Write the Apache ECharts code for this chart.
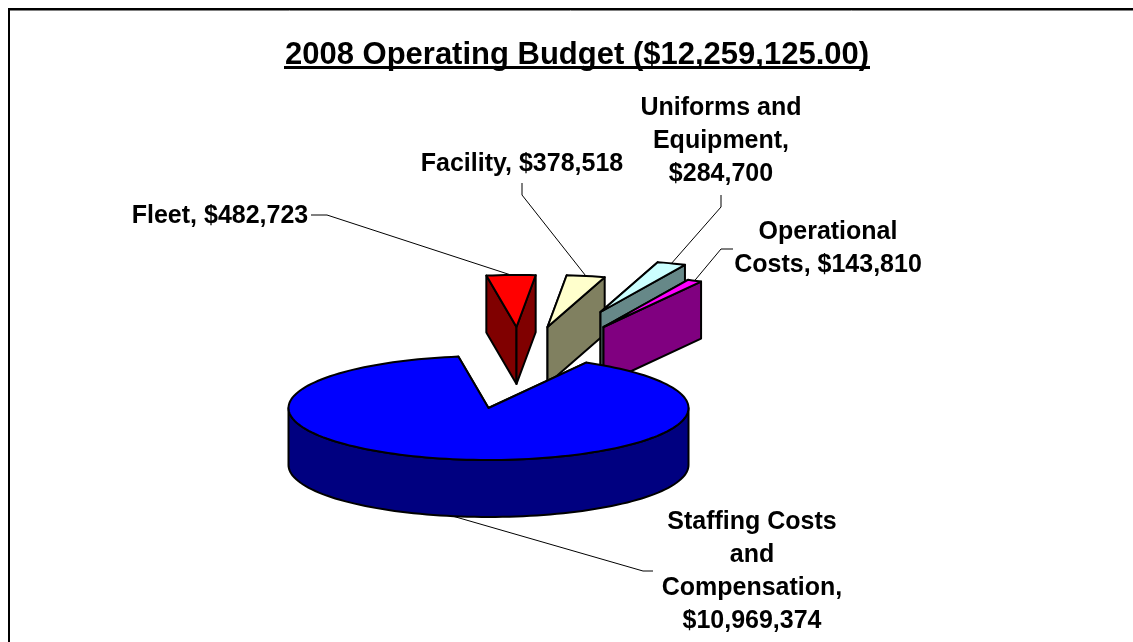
<!DOCTYPE html>
<html>
<head>
<meta charset="utf-8">
<title>2008 Operating Budget</title>
<script src="https://cdn.jsdelivr.net/npm/echarts@6/dist/echarts.min.js"></script>
<style>
  html, body { margin: 0; padding: 0; background: #fff; }
  #chart { width: 1133px; height: 642px; }
</style>
</head>
<body>
<div id="chart"></div>
<script>
const titleText = '2008 Operating Budget ($12,259,125.00)';
const categories = ['Staffing Costs\nand\nCompensation', 'Fleet', 'Facility', 'Uniforms and\nEquipment', 'Operational\nCosts'];
const amounts = [10969374, 482723, 378518, 284700, 143810];
const labelSeparators = [',\n', ', ', ', ', ',\n', ', '];

const topColors = ['#0000ff', '#ff0000', '#ffffcc', '#ccffff', '#ff00ff'];
const sideColors = ['#000080', '#800000', '#808060', '#668888', '#800080'];

// pie shape, picture px
const pie = { cx: 488.5, cy: 408, rx: 200, ry: 52, depth: 57, startAngle: 29.2 };
// how far each slice was dragged out of the pie
const explode = [[0, 0], [28, -81], [59, -81], [112, -96], [115, -81]];
// label centre + first line y, then the points of the leader line on the label side
const labelPos = [[752, 506], [220, 200], [522, 148], [721, 92], [828, 216]];
const leaderFrom = [
  [[653, 571], [643, 571]],
  [[311, 215], [327, 215]],
  [[522, 183], [522, 195]],
  [[721, 195], [721, 207]],
  [[733, 249], [721, 249]]
];
const drawOrder = [4, 0, 1, 2, 3]; // z per slice: small ones behind the big one

const lineHeight = 33;
const labelFont = 'bold 25px "Liberation Sans", Arial, sans-serif';
const total = amounts.reduce((a, b) => a + b, 0);

// clockwise from 12 o'clock
function ptAt(deg, ox, oy) {
  const r = deg * Math.PI / 180;
  return [ox + pie.rx * Math.sin(r), oy - pie.ry * Math.cos(r)];
}
function arc(a0, a1, ox, oy) {
  const pts = [];
  const n = Math.max(2, Math.ceil(Math.abs(a1 - a0) / 2));
  for (let i = 0; i <= n; i++) pts.push(ptAt(a0 + (a1 - a0) * i / n, ox, oy));
  return pts;
}
function down(pts) {
  return pts.map(p => [p[0], p[1] + pie.depth]).reverse();
}
function formatMoney(v) {
  return '$' + v.toLocaleString('en-US');
}

function renderSlice(params, api) {
  const i = params.dataIndex;
  const before = amounts.slice(0, i).reduce((a, b) => a + b, 0);
  const a0 = pie.startAngle + before / total * 360;
  const a1 = a0 + api.value(0) / total * 360;
  const ox = pie.cx + explode[i][0];
  const oy = pie.cy + explode[i][1];
  const apex = [ox, oy];
  const s0 = ptAt(a0, ox, oy);
  const s1 = ptAt(a1, ox, oy);
  const z = drawOrder[i] * 10;
  const face = (pts, c, dz) => ({
    type: 'polygon', z2: z + dz,
    shape: { points: pts },
    style: { fill: c, stroke: '#000', lineWidth: 2, lineJoin: 'round' }
  });
  const children = [
    face([apex, s0].concat(down([apex, s0])), sideColors[i], 0),
    face([apex, s1].concat(down([apex, s1])), sideColors[i], 1)
  ];
  // outer wall only shows on the front half
  const w0 = Math.max(a0, 90), w1 = Math.min(a1, 270);
  if (w1 > w0) {
    const wall = arc(w0, w1, ox, oy);
    children.push(face(wall.concat(down(wall)), sideColors[i], 2));
  }
  children.push(face([apex].concat(arc(a0, a1, ox, oy)), topColors[i], 3));

  // leader line, runs to the middle of the slice's outer edge
  const mid = (a0 + a1) / 2;
  let end = ptAt(mid, ox, oy);
  if (mid % 360 > 90 && mid % 360 < 270) end = [end[0], end[1] + pie.depth];
  children.push({
    type: 'polyline', z2: -1,
    shape: { points: leaderFrom[i].concat([end]) },
    style: { fill: null, stroke: '#000', lineWidth: 1 }
  });
  children.push({
    type: 'text', z2: 100,
    style: {
      text: categories[i] + labelSeparators[i] + formatMoney(api.value(0)),
      x: labelPos[i][0], y: labelPos[i][1],
      font: labelFont, fill: '#000', align: 'center', verticalAlign: 'top',
      lineHeight: lineHeight
    }
  });
  return { type: 'group', children: children };
}

const chart = echarts.init(document.getElementById('chart'));
chart.setOption({
  animation: false,
  backgroundColor: '#fff',
  title: {
    text: titleText,
    left: 572,
    top: 35,
    textAlign: 'center',
    textStyle: { fontFamily: '"Liberation Sans", Arial, sans-serif', fontWeight: 'bold', fontSize: 31, color: '#000' }
  },
  graphic: [
    // chart frame, only top and left survive in the crop
    { type: 'line', shape: { x1: 8, y1: 9, x2: 1133, y2: 9 }, style: { stroke: '#000', lineWidth: 2 } },
    { type: 'line', shape: { x1: 8, y1: 10.5, x2: 1133, y2: 10.5 }, style: { stroke: '#808080', lineWidth: 1 } },
    { type: 'line', shape: { x1: 9, y1: 8, x2: 9, y2: 642 }, style: { stroke: '#000', lineWidth: 2 } },
    // title underline
    { type: 'rect', shape: { x: 284, y: 66, width: 586, height: 3 }, style: { fill: '#000' } }
  ],
  series: [{
    type: 'custom',
    coordinateSystem: 'none',
    silent: true,
    renderItem: renderSlice,
    data: amounts.map(v => [v])
  }]
});
</script>
</body>
</html>
